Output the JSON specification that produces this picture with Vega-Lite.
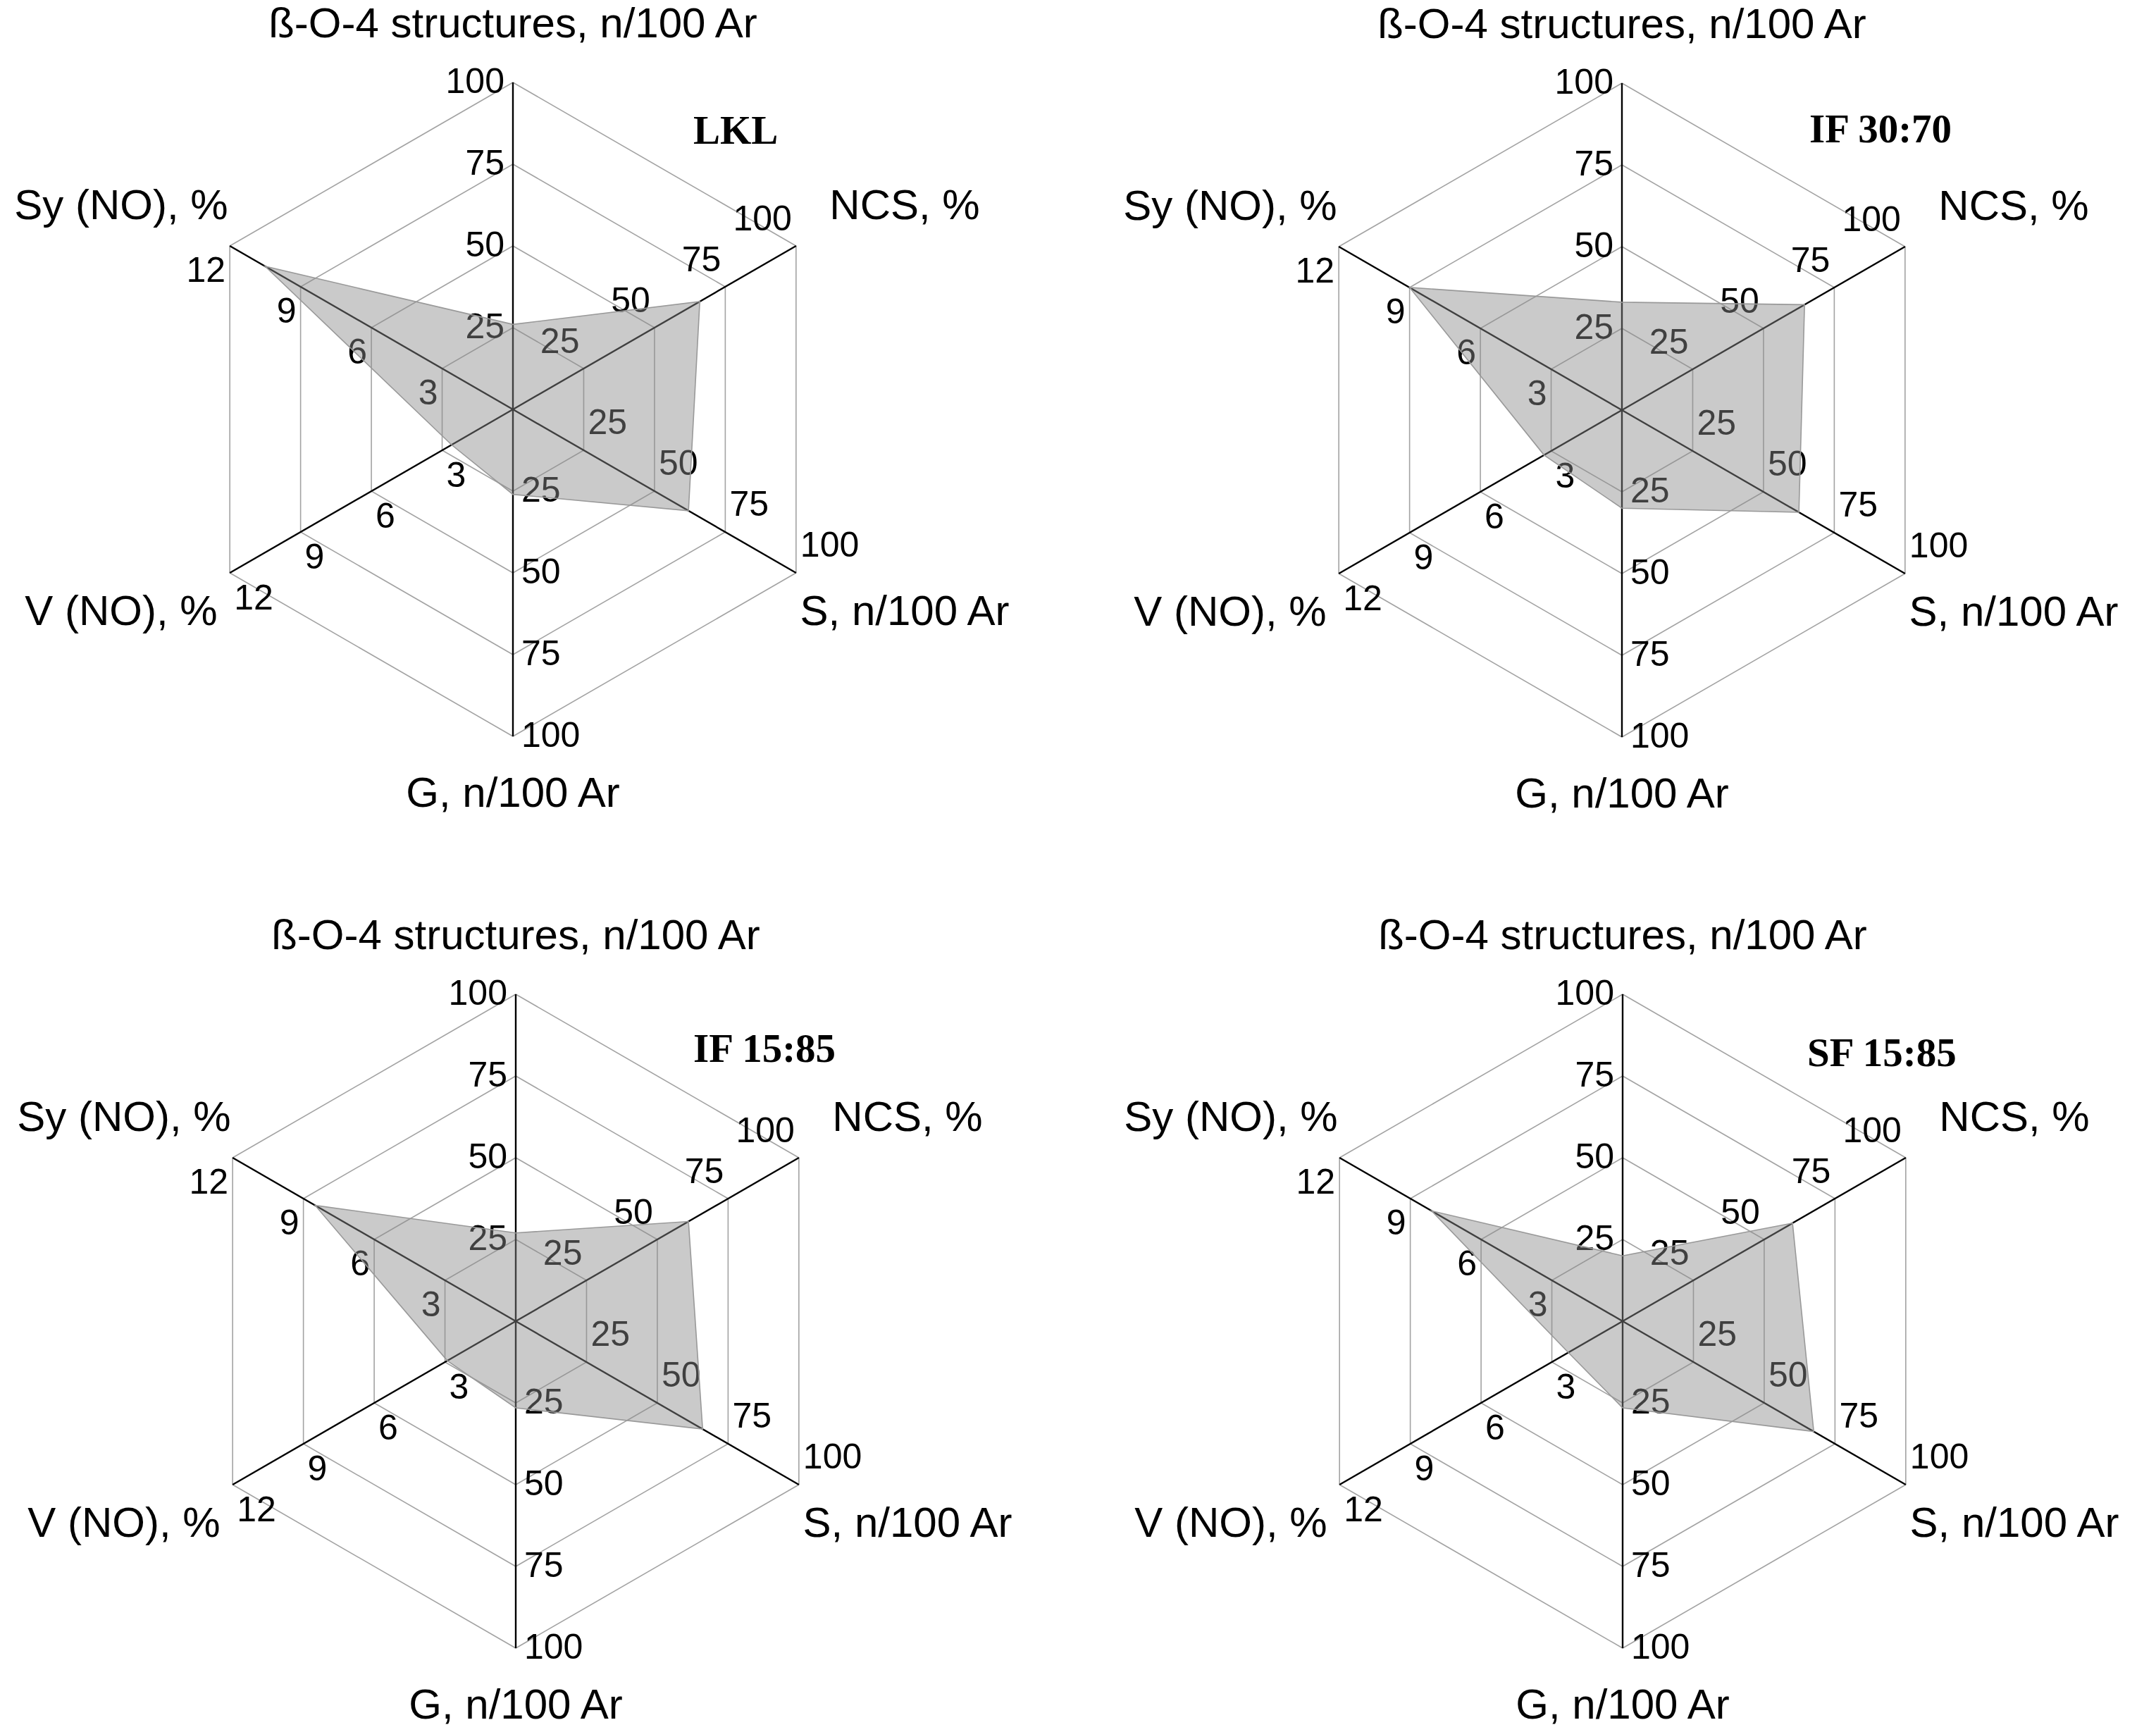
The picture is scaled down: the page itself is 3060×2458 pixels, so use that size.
{
  "$schema": "https://vega.github.io/schema/vega-lite/v6.json",
  "padding": 0,
  "background": "white",
  "spacing": 0,
  "config": {"view": {"stroke": null}, "concat": {"spacing": 0}},
  "datasets": {
    "lignin": [
      {"sample": "LKL", "k": 0, "value": 26},
      {"sample": "LKL", "k": 1, "value": 66},
      {"sample": "LKL", "k": 2, "value": 62},
      {"sample": "LKL", "k": 3, "value": 26},
      {"sample": "LKL", "k": 4, "value": 2.6},
      {"sample": "LKL", "k": 5, "value": 10.5},
      {"sample": "IF 30:70", "k": 0, "value": 33},
      {"sample": "IF 30:70", "k": 1, "value": 64.5},
      {"sample": "IF 30:70", "k": 2, "value": 62.5},
      {"sample": "IF 30:70", "k": 3, "value": 30},
      {"sample": "IF 30:70", "k": 4, "value": 3.3},
      {"sample": "IF 30:70", "k": 5, "value": 9.0},
      {"sample": "IF 15:85", "k": 0, "value": 27},
      {"sample": "IF 15:85", "k": 1, "value": 61},
      {"sample": "IF 15:85", "k": 2, "value": 66},
      {"sample": "IF 15:85", "k": 3, "value": 26.5},
      {"sample": "IF 15:85", "k": 4, "value": 2.9},
      {"sample": "IF 15:85", "k": 5, "value": 8.5},
      {"sample": "SF 15:85", "k": 0, "value": 20},
      {"sample": "SF 15:85", "k": 1, "value": 60},
      {"sample": "SF 15:85", "k": 2, "value": 67.5},
      {"sample": "SF 15:85", "k": 3, "value": 26.5},
      {"sample": "SF 15:85", "k": 4, "value": 2.3},
      {"sample": "SF 15:85", "k": 5, "value": 8.1}
    ],
    "axes": [
      {"k": 0, "title": "ß-O-4 structures, n/100 Ar", "max": 100},
      {"k": 1, "title": "NCS, %", "max": 100},
      {"k": 2, "title": "S, n/100 Ar", "max": 100},
      {"k": 3, "title": "G, n/100 Ar", "max": 100},
      {"k": 4, "title": "V (NO), %", "max": 12},
      {"k": 5, "title": "Sy (NO), %", "max": 12}
    ],
    "grid": [
      {"ring": 1, "k": 0}, {"ring": 1, "k": 1}, {"ring": 1, "k": 2}, {"ring": 1, "k": 3}, {"ring": 1, "k": 4}, {"ring": 1, "k": 5},
      {"ring": 2, "k": 0}, {"ring": 2, "k": 1}, {"ring": 2, "k": 2}, {"ring": 2, "k": 3}, {"ring": 2, "k": 4}, {"ring": 2, "k": 5},
      {"ring": 3, "k": 0}, {"ring": 3, "k": 1}, {"ring": 3, "k": 2}, {"ring": 3, "k": 3}, {"ring": 3, "k": 4}, {"ring": 3, "k": 5},
      {"ring": 4, "k": 0}, {"ring": 4, "k": 1}, {"ring": 4, "k": 2}, {"ring": 4, "k": 3}, {"ring": 4, "k": 4}, {"ring": 4, "k": 5}
    ],
    "ticks": [
      {"k": 0, "ring": 1, "label": "25"}, {"k": 0, "ring": 2, "label": "50"}, {"k": 0, "ring": 3, "label": "75"}, {"k": 0, "ring": 4, "label": "100"},
      {"k": 1, "ring": 1, "label": "25"}, {"k": 1, "ring": 2, "label": "50"}, {"k": 1, "ring": 3, "label": "75"}, {"k": 1, "ring": 4, "label": "100"},
      {"k": 2, "ring": 1, "label": "25"}, {"k": 2, "ring": 2, "label": "50"}, {"k": 2, "ring": 3, "label": "75"}, {"k": 2, "ring": 4, "label": "100"},
      {"k": 3, "ring": 1, "label": "25"}, {"k": 3, "ring": 2, "label": "50"}, {"k": 3, "ring": 3, "label": "75"}, {"k": 3, "ring": 4, "label": "100"},
      {"k": 4, "ring": 1, "label": "3"}, {"k": 4, "ring": 2, "label": "6"}, {"k": 4, "ring": 3, "label": "9"}, {"k": 4, "ring": 4, "label": "12"},
      {"k": 5, "ring": 1, "label": "3"}, {"k": 5, "ring": 2, "label": "6"}, {"k": 5, "ring": 3, "label": "9"}, {"k": 5, "ring": 4, "label": "12"}
    ]
  },
  "vconcat": [
    {"hconcat": [
      {"width": 1530, "height": 1229,
       "layer": [
        {"data": {"name": "grid"},
         "transform": [{"calculate": "PI/2 - datum.k*PI/3", "as": "a"}, {"calculate": "116*datum.ring*cos(datum.a)", "as": "px"}, {"calculate": "116*datum.ring*sin(datum.a)", "as": "py"}],
         "mark": {"type": "line", "interpolate": "linear-closed", "stroke": "#a3a3a3", "strokeWidth": 1.6},
         "encoding": {"x": {"field": "px", "type": "quantitative", "scale": {"domain": [-728, 802], "nice": false, "zero": false}, "axis": null}, "y": {"field": "py", "type": "quantitative", "scale": {"domain": [-648, 581], "nice": false, "zero": false}, "axis": null}, "detail": {"field": "ring"}, "order": {"field": "k"}}},
        {"data": {"name": "axes"},
         "transform": [{"calculate": "PI/2 - datum.k*PI/3", "as": "a"}, {"calculate": "464*cos(datum.a)", "as": "px"}, {"calculate": "464*sin(datum.a)", "as": "py"}],
         "mark": {"type": "rule", "stroke": "black", "strokeWidth": 2.4},
         "encoding": {"x": {"field": "px", "type": "quantitative", "scale": {"domain": [-728, 802], "nice": false, "zero": false}, "axis": null}, "y": {"field": "py", "type": "quantitative", "scale": {"domain": [-648, 581], "nice": false, "zero": false}, "axis": null}, "x2": {"datum": 0}, "y2": {"datum": 0}}},
        {"data": {"name": "ticks"},
         "transform": [{"filter": "datum.k == 0 || datum.k == 1 || datum.k == 5"}, {"calculate": "PI/2 - datum.k*PI/3", "as": "a"}, {"calculate": "116*datum.ring*cos(datum.a) + (datum.k == 0 ? -12 : -6)", "as": "px"}, {"calculate": "116*datum.ring*sin(datum.a) + (datum.k == 1 ? 37 : datum.k == 5 ? -36 : 0)", "as": "py"}],
         "mark": {"type": "text", "align": "right", "baseline": "middle", "font": "Liberation Sans", "fontSize": 50, "color": "black"},
         "encoding": {"x": {"field": "px", "type": "quantitative", "scale": {"domain": [-728, 802], "nice": false, "zero": false}, "axis": null}, "y": {"field": "py", "type": "quantitative", "scale": {"domain": [-648, 581], "nice": false, "zero": false}, "axis": null}, "text": {"field": "label"}}},
        {"data": {"name": "ticks"},
         "transform": [{"filter": "datum.k == 2 || datum.k == 3 || datum.k == 4"}, {"calculate": "PI/2 - datum.k*PI/3", "as": "a"}, {"calculate": "116*datum.ring*cos(datum.a) + (datum.k == 3 ? 12 : 6)", "as": "px"}, {"calculate": "116*datum.ring*sin(datum.a) + (datum.k == 2 ? 38 : datum.k == 4 ? -37 : 0)", "as": "py"}],
         "mark": {"type": "text", "align": "left", "baseline": "middle", "font": "Liberation Sans", "fontSize": 50, "color": "black"},
         "encoding": {"x": {"field": "px", "type": "quantitative", "scale": {"domain": [-728, 802], "nice": false, "zero": false}, "axis": null}, "y": {"field": "py", "type": "quantitative", "scale": {"domain": [-648, 581], "nice": false, "zero": false}, "axis": null}, "text": {"field": "label"}}},
        {"data": {"name": "lignin"},
         "transform": [{"filter": "datum.sample == 'LKL'"}, {"calculate": "PI/2 - datum.k*PI/3", "as": "a"}, {"calculate": "datum.value/(datum.k >= 4 ? 12 : 100)*464", "as": "r"}, {"calculate": "datum.r*cos(datum.a)", "as": "px"}, {"calculate": "datum.r*sin(datum.a)", "as": "py"}],
         "mark": {"type": "line", "interpolate": "linear-closed", "filled": true, "fill": "#8c8c8c", "fillOpacity": 0.46, "stroke": "#999999", "strokeWidth": 1.6},
         "encoding": {"x": {"field": "px", "type": "quantitative", "scale": {"domain": [-728, 802], "nice": false, "zero": false}, "axis": null}, "y": {"field": "py", "type": "quantitative", "scale": {"domain": [-648, 581], "nice": false, "zero": false}, "axis": null}, "order": {"field": "k"}}},
        {"data": {"name": "axes"},
         "transform": [{"calculate": "PI/2 - datum.k*PI/3", "as": "a"}, {"calculate": "642*cos(datum.a)", "as": "px"}, {"calculate": "sin(datum.a)*(datum.k % 3 == 0 ? 546 : 576)", "as": "py"}],
         "mark": {"type": "text", "align": "center", "baseline": "middle", "font": "Liberation Sans", "fontSize": 60, "color": "black"},
         "encoding": {"x": {"field": "px", "type": "quantitative", "scale": {"domain": [-728, 802], "nice": false, "zero": false}, "axis": null}, "y": {"field": "py", "type": "quantitative", "scale": {"domain": [-648, 581], "nice": false, "zero": false}, "axis": null}, "text": {"field": "title"}}},
        {"data": {"values": [{"name": "LKL"}]},
         "mark": {"type": "text", "align": "left", "baseline": "middle", "font": "Liberation Serif", "fontWeight": "bold", "fontSize": 57, "color": "black"},
         "encoding": {"x": {"datum": 256, "type": "quantitative", "scale": {"domain": [-728, 802], "nice": false, "zero": false}, "axis": null}, "y": {"datum": 394, "type": "quantitative", "scale": {"domain": [-648, 581], "nice": false, "zero": false}, "axis": null}, "text": {"field": "name"}}}
       ]},
      {"width": 1530, "height": 1229,
       "layer": [
        {"data": {"name": "grid"},
         "transform": [{"calculate": "PI/2 - datum.k*PI/3", "as": "a"}, {"calculate": "116*datum.ring*cos(datum.a)", "as": "px"}, {"calculate": "116*datum.ring*sin(datum.a)", "as": "py"}],
         "mark": {"type": "line", "interpolate": "linear-closed", "stroke": "#a3a3a3", "strokeWidth": 1.6},
         "encoding": {"x": {"field": "px", "type": "quantitative", "scale": {"domain": [-772, 758], "nice": false, "zero": false}, "axis": null}, "y": {"field": "py", "type": "quantitative", "scale": {"domain": [-647, 582], "nice": false, "zero": false}, "axis": null}, "detail": {"field": "ring"}, "order": {"field": "k"}}},
        {"data": {"name": "axes"},
         "transform": [{"calculate": "PI/2 - datum.k*PI/3", "as": "a"}, {"calculate": "464*cos(datum.a)", "as": "px"}, {"calculate": "464*sin(datum.a)", "as": "py"}],
         "mark": {"type": "rule", "stroke": "black", "strokeWidth": 2.4},
         "encoding": {"x": {"field": "px", "type": "quantitative", "scale": {"domain": [-772, 758], "nice": false, "zero": false}, "axis": null}, "y": {"field": "py", "type": "quantitative", "scale": {"domain": [-647, 582], "nice": false, "zero": false}, "axis": null}, "x2": {"datum": 0}, "y2": {"datum": 0}}},
        {"data": {"name": "ticks"},
         "transform": [{"filter": "datum.k == 0 || datum.k == 1 || datum.k == 5"}, {"calculate": "PI/2 - datum.k*PI/3", "as": "a"}, {"calculate": "116*datum.ring*cos(datum.a) + (datum.k == 0 ? -12 : -6)", "as": "px"}, {"calculate": "116*datum.ring*sin(datum.a) + (datum.k == 1 ? 37 : datum.k == 5 ? -36 : 0)", "as": "py"}],
         "mark": {"type": "text", "align": "right", "baseline": "middle", "font": "Liberation Sans", "fontSize": 50, "color": "black"},
         "encoding": {"x": {"field": "px", "type": "quantitative", "scale": {"domain": [-772, 758], "nice": false, "zero": false}, "axis": null}, "y": {"field": "py", "type": "quantitative", "scale": {"domain": [-647, 582], "nice": false, "zero": false}, "axis": null}, "text": {"field": "label"}}},
        {"data": {"name": "ticks"},
         "transform": [{"filter": "datum.k == 2 || datum.k == 3 || datum.k == 4"}, {"calculate": "PI/2 - datum.k*PI/3", "as": "a"}, {"calculate": "116*datum.ring*cos(datum.a) + (datum.k == 3 ? 12 : 6)", "as": "px"}, {"calculate": "116*datum.ring*sin(datum.a) + (datum.k == 2 ? 38 : datum.k == 4 ? -37 : 0)", "as": "py"}],
         "mark": {"type": "text", "align": "left", "baseline": "middle", "font": "Liberation Sans", "fontSize": 50, "color": "black"},
         "encoding": {"x": {"field": "px", "type": "quantitative", "scale": {"domain": [-772, 758], "nice": false, "zero": false}, "axis": null}, "y": {"field": "py", "type": "quantitative", "scale": {"domain": [-647, 582], "nice": false, "zero": false}, "axis": null}, "text": {"field": "label"}}},
        {"data": {"name": "lignin"},
         "transform": [{"filter": "datum.sample == 'IF 30:70'"}, {"calculate": "PI/2 - datum.k*PI/3", "as": "a"}, {"calculate": "datum.value/(datum.k >= 4 ? 12 : 100)*464", "as": "r"}, {"calculate": "datum.r*cos(datum.a)", "as": "px"}, {"calculate": "datum.r*sin(datum.a)", "as": "py"}],
         "mark": {"type": "line", "interpolate": "linear-closed", "filled": true, "fill": "#8c8c8c", "fillOpacity": 0.46, "stroke": "#999999", "strokeWidth": 1.6},
         "encoding": {"x": {"field": "px", "type": "quantitative", "scale": {"domain": [-772, 758], "nice": false, "zero": false}, "axis": null}, "y": {"field": "py", "type": "quantitative", "scale": {"domain": [-647, 582], "nice": false, "zero": false}, "axis": null}, "order": {"field": "k"}}},
        {"data": {"name": "axes"},
         "transform": [{"calculate": "PI/2 - datum.k*PI/3", "as": "a"}, {"calculate": "642*cos(datum.a)", "as": "px"}, {"calculate": "sin(datum.a)*(datum.k % 3 == 0 ? 546 : 576)", "as": "py"}],
         "mark": {"type": "text", "align": "center", "baseline": "middle", "font": "Liberation Sans", "fontSize": 60, "color": "black"},
         "encoding": {"x": {"field": "px", "type": "quantitative", "scale": {"domain": [-772, 758], "nice": false, "zero": false}, "axis": null}, "y": {"field": "py", "type": "quantitative", "scale": {"domain": [-647, 582], "nice": false, "zero": false}, "axis": null}, "text": {"field": "title"}}},
        {"data": {"values": [{"name": "IF 30:70"}]},
         "mark": {"type": "text", "align": "left", "baseline": "middle", "font": "Liberation Serif", "fontWeight": "bold", "fontSize": 57, "color": "black"},
         "encoding": {"x": {"datum": 266, "type": "quantitative", "scale": {"domain": [-772, 758], "nice": false, "zero": false}, "axis": null}, "y": {"datum": 397, "type": "quantitative", "scale": {"domain": [-647, 582], "nice": false, "zero": false}, "axis": null}, "text": {"field": "name"}}}
       ]}
    ]},
    {"hconcat": [
      {"width": 1530, "height": 1229,
       "layer": [
        {"data": {"name": "grid"},
         "transform": [{"calculate": "PI/2 - datum.k*PI/3", "as": "a"}, {"calculate": "116*datum.ring*cos(datum.a)", "as": "px"}, {"calculate": "116*datum.ring*sin(datum.a)", "as": "py"}],
         "mark": {"type": "line", "interpolate": "linear-closed", "stroke": "#a3a3a3", "strokeWidth": 1.6},
         "encoding": {"x": {"field": "px", "type": "quantitative", "scale": {"domain": [-732, 798], "nice": false, "zero": false}, "axis": null}, "y": {"field": "py", "type": "quantitative", "scale": {"domain": [-583, 646], "nice": false, "zero": false}, "axis": null}, "detail": {"field": "ring"}, "order": {"field": "k"}}},
        {"data": {"name": "axes"},
         "transform": [{"calculate": "PI/2 - datum.k*PI/3", "as": "a"}, {"calculate": "464*cos(datum.a)", "as": "px"}, {"calculate": "464*sin(datum.a)", "as": "py"}],
         "mark": {"type": "rule", "stroke": "black", "strokeWidth": 2.4},
         "encoding": {"x": {"field": "px", "type": "quantitative", "scale": {"domain": [-732, 798], "nice": false, "zero": false}, "axis": null}, "y": {"field": "py", "type": "quantitative", "scale": {"domain": [-583, 646], "nice": false, "zero": false}, "axis": null}, "x2": {"datum": 0}, "y2": {"datum": 0}}},
        {"data": {"name": "ticks"},
         "transform": [{"filter": "datum.k == 0 || datum.k == 1 || datum.k == 5"}, {"calculate": "PI/2 - datum.k*PI/3", "as": "a"}, {"calculate": "116*datum.ring*cos(datum.a) + (datum.k == 0 ? -12 : -6)", "as": "px"}, {"calculate": "116*datum.ring*sin(datum.a) + (datum.k == 1 ? 37 : datum.k == 5 ? -36 : 0)", "as": "py"}],
         "mark": {"type": "text", "align": "right", "baseline": "middle", "font": "Liberation Sans", "fontSize": 50, "color": "black"},
         "encoding": {"x": {"field": "px", "type": "quantitative", "scale": {"domain": [-732, 798], "nice": false, "zero": false}, "axis": null}, "y": {"field": "py", "type": "quantitative", "scale": {"domain": [-583, 646], "nice": false, "zero": false}, "axis": null}, "text": {"field": "label"}}},
        {"data": {"name": "ticks"},
         "transform": [{"filter": "datum.k == 2 || datum.k == 3 || datum.k == 4"}, {"calculate": "PI/2 - datum.k*PI/3", "as": "a"}, {"calculate": "116*datum.ring*cos(datum.a) + (datum.k == 3 ? 12 : 6)", "as": "px"}, {"calculate": "116*datum.ring*sin(datum.a) + (datum.k == 2 ? 38 : datum.k == 4 ? -37 : 0)", "as": "py"}],
         "mark": {"type": "text", "align": "left", "baseline": "middle", "font": "Liberation Sans", "fontSize": 50, "color": "black"},
         "encoding": {"x": {"field": "px", "type": "quantitative", "scale": {"domain": [-732, 798], "nice": false, "zero": false}, "axis": null}, "y": {"field": "py", "type": "quantitative", "scale": {"domain": [-583, 646], "nice": false, "zero": false}, "axis": null}, "text": {"field": "label"}}},
        {"data": {"name": "lignin"},
         "transform": [{"filter": "datum.sample == 'IF 15:85'"}, {"calculate": "PI/2 - datum.k*PI/3", "as": "a"}, {"calculate": "datum.value/(datum.k >= 4 ? 12 : 100)*464", "as": "r"}, {"calculate": "datum.r*cos(datum.a)", "as": "px"}, {"calculate": "datum.r*sin(datum.a)", "as": "py"}],
         "mark": {"type": "line", "interpolate": "linear-closed", "filled": true, "fill": "#8c8c8c", "fillOpacity": 0.46, "stroke": "#999999", "strokeWidth": 1.6},
         "encoding": {"x": {"field": "px", "type": "quantitative", "scale": {"domain": [-732, 798], "nice": false, "zero": false}, "axis": null}, "y": {"field": "py", "type": "quantitative", "scale": {"domain": [-583, 646], "nice": false, "zero": false}, "axis": null}, "order": {"field": "k"}}},
        {"data": {"name": "axes"},
         "transform": [{"calculate": "PI/2 - datum.k*PI/3", "as": "a"}, {"calculate": "642*cos(datum.a)", "as": "px"}, {"calculate": "sin(datum.a)*(datum.k % 3 == 0 ? 546 : 576)", "as": "py"}],
         "mark": {"type": "text", "align": "center", "baseline": "middle", "font": "Liberation Sans", "fontSize": 60, "color": "black"},
         "encoding": {"x": {"field": "px", "type": "quantitative", "scale": {"domain": [-732, 798], "nice": false, "zero": false}, "axis": null}, "y": {"field": "py", "type": "quantitative", "scale": {"domain": [-583, 646], "nice": false, "zero": false}, "axis": null}, "text": {"field": "title"}}},
        {"data": {"values": [{"name": "IF 15:85"}]},
         "mark": {"type": "text", "align": "left", "baseline": "middle", "font": "Liberation Serif", "fontWeight": "bold", "fontSize": 57, "color": "black"},
         "encoding": {"x": {"datum": 252, "type": "quantitative", "scale": {"domain": [-732, 798], "nice": false, "zero": false}, "axis": null}, "y": {"datum": 385, "type": "quantitative", "scale": {"domain": [-583, 646], "nice": false, "zero": false}, "axis": null}, "text": {"field": "name"}}}
       ]},
      {"width": 1530, "height": 1229,
       "layer": [
        {"data": {"name": "grid"},
         "transform": [{"calculate": "PI/2 - datum.k*PI/3", "as": "a"}, {"calculate": "116*datum.ring*cos(datum.a)", "as": "px"}, {"calculate": "116*datum.ring*sin(datum.a)", "as": "py"}],
         "mark": {"type": "line", "interpolate": "linear-closed", "stroke": "#a3a3a3", "strokeWidth": 1.6},
         "encoding": {"x": {"field": "px", "type": "quantitative", "scale": {"domain": [-773, 757], "nice": false, "zero": false}, "axis": null}, "y": {"field": "py", "type": "quantitative", "scale": {"domain": [-583, 646], "nice": false, "zero": false}, "axis": null}, "detail": {"field": "ring"}, "order": {"field": "k"}}},
        {"data": {"name": "axes"},
         "transform": [{"calculate": "PI/2 - datum.k*PI/3", "as": "a"}, {"calculate": "464*cos(datum.a)", "as": "px"}, {"calculate": "464*sin(datum.a)", "as": "py"}],
         "mark": {"type": "rule", "stroke": "black", "strokeWidth": 2.4},
         "encoding": {"x": {"field": "px", "type": "quantitative", "scale": {"domain": [-773, 757], "nice": false, "zero": false}, "axis": null}, "y": {"field": "py", "type": "quantitative", "scale": {"domain": [-583, 646], "nice": false, "zero": false}, "axis": null}, "x2": {"datum": 0}, "y2": {"datum": 0}}},
        {"data": {"name": "ticks"},
         "transform": [{"filter": "datum.k == 0 || datum.k == 1 || datum.k == 5"}, {"calculate": "PI/2 - datum.k*PI/3", "as": "a"}, {"calculate": "116*datum.ring*cos(datum.a) + (datum.k == 0 ? -12 : -6)", "as": "px"}, {"calculate": "116*datum.ring*sin(datum.a) + (datum.k == 1 ? 37 : datum.k == 5 ? -36 : 0)", "as": "py"}],
         "mark": {"type": "text", "align": "right", "baseline": "middle", "font": "Liberation Sans", "fontSize": 50, "color": "black"},
         "encoding": {"x": {"field": "px", "type": "quantitative", "scale": {"domain": [-773, 757], "nice": false, "zero": false}, "axis": null}, "y": {"field": "py", "type": "quantitative", "scale": {"domain": [-583, 646], "nice": false, "zero": false}, "axis": null}, "text": {"field": "label"}}},
        {"data": {"name": "ticks"},
         "transform": [{"filter": "datum.k == 2 || datum.k == 3 || datum.k == 4"}, {"calculate": "PI/2 - datum.k*PI/3", "as": "a"}, {"calculate": "116*datum.ring*cos(datum.a) + (datum.k == 3 ? 12 : 6)", "as": "px"}, {"calculate": "116*datum.ring*sin(datum.a) + (datum.k == 2 ? 38 : datum.k == 4 ? -37 : 0)", "as": "py"}],
         "mark": {"type": "text", "align": "left", "baseline": "middle", "font": "Liberation Sans", "fontSize": 50, "color": "black"},
         "encoding": {"x": {"field": "px", "type": "quantitative", "scale": {"domain": [-773, 757], "nice": false, "zero": false}, "axis": null}, "y": {"field": "py", "type": "quantitative", "scale": {"domain": [-583, 646], "nice": false, "zero": false}, "axis": null}, "text": {"field": "label"}}},
        {"data": {"name": "lignin"},
         "transform": [{"filter": "datum.sample == 'SF 15:85'"}, {"calculate": "PI/2 - datum.k*PI/3", "as": "a"}, {"calculate": "datum.value/(datum.k >= 4 ? 12 : 100)*464", "as": "r"}, {"calculate": "datum.r*cos(datum.a)", "as": "px"}, {"calculate": "datum.r*sin(datum.a)", "as": "py"}],
         "mark": {"type": "line", "interpolate": "linear-closed", "filled": true, "fill": "#8c8c8c", "fillOpacity": 0.46, "stroke": "#999999", "strokeWidth": 1.6},
         "encoding": {"x": {"field": "px", "type": "quantitative", "scale": {"domain": [-773, 757], "nice": false, "zero": false}, "axis": null}, "y": {"field": "py", "type": "quantitative", "scale": {"domain": [-583, 646], "nice": false, "zero": false}, "axis": null}, "order": {"field": "k"}}},
        {"data": {"name": "axes"},
         "transform": [{"calculate": "PI/2 - datum.k*PI/3", "as": "a"}, {"calculate": "642*cos(datum.a)", "as": "px"}, {"calculate": "sin(datum.a)*(datum.k % 3 == 0 ? 546 : 576)", "as": "py"}],
         "mark": {"type": "text", "align": "center", "baseline": "middle", "font": "Liberation Sans", "fontSize": 60, "color": "black"},
         "encoding": {"x": {"field": "px", "type": "quantitative", "scale": {"domain": [-773, 757], "nice": false, "zero": false}, "axis": null}, "y": {"field": "py", "type": "quantitative", "scale": {"domain": [-583, 646], "nice": false, "zero": false}, "axis": null}, "text": {"field": "title"}}},
        {"data": {"values": [{"name": "SF 15:85"}]},
         "mark": {"type": "text", "align": "left", "baseline": "middle", "font": "Liberation Serif", "fontWeight": "bold", "fontSize": 57, "color": "black"},
         "encoding": {"x": {"datum": 262, "type": "quantitative", "scale": {"domain": [-773, 757], "nice": false, "zero": false}, "axis": null}, "y": {"datum": 379, "type": "quantitative", "scale": {"domain": [-583, 646], "nice": false, "zero": false}, "axis": null}, "text": {"field": "name"}}}
       ]}
    ]}
  ]
}
